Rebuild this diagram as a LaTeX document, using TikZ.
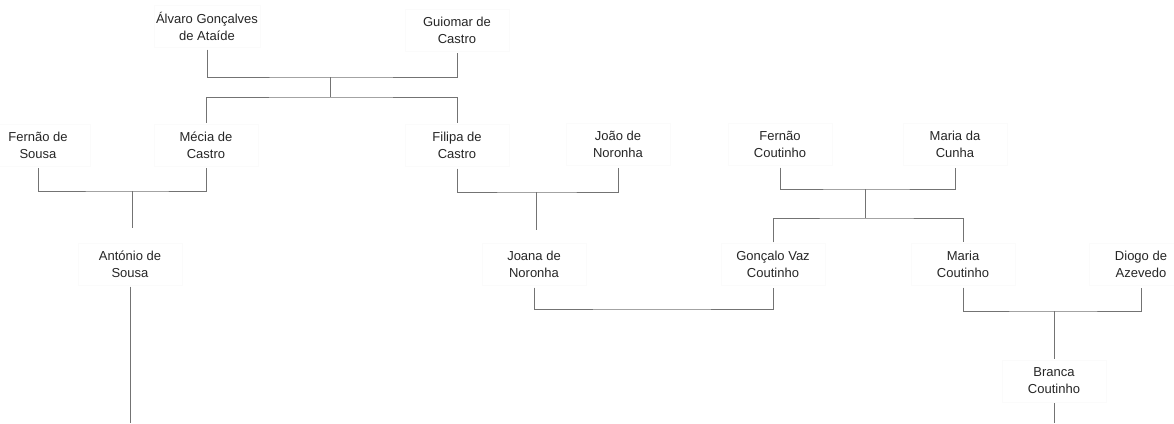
\documentclass[tikz,border=0pt]{standalone}
\usepackage{fontspec}
\setmainfont{Liberation Sans}
\begin{document}
\begin{tikzpicture}[x=1pt,y=-1pt,
  person/.style={draw=black!1.5, line width=0.4pt, text=black!85, align=center,
    minimum width=104pt, minimum height=42pt, inner sep=2pt,
    font=\fontsize{13}{17}\selectfont},
  link/.style={draw=black!55, line width=1pt},
  gap/.style={shorten <=2pt, shorten >=2pt}]
\useasboundingbox (0,0) rectangle (1174,423);
\fill[white] (0,0) rectangle (1174,423);
% people
\node[person] (alv) at (207,26.5) {Álvaro Gonçalves\\de Ataíde};
\node[person] (gui) at (457,30) {Guiomar de\\Castro};
\node[person] (fso) at (38,145) {Fernão de\\Sousa};
\node[person] (mec) at (206,145) {Mécia de\\Castro};
\node[person] (fil) at (457,145.5) {Filipa de\\Castro};
\node[person] (joao) at (618,144.5) {João de\\Noronha};
\node[person] (fco) at (780,144.5) {Fernão\\Coutinho};
\node[person] (mcu) at (955,144.5) {Maria da\\Cunha};
\node[person] (ant) at (130,264.5) {António de\\Sousa};
\node[person] (joa) at (534,264.5) {Joana de\\Noronha};
\node[person] (gon) at (773,264.5) {Gonçalo Vaz\\Coutinho};
\node[person] (mco) at (963,264.5) {Maria\\Coutinho};
\node[person] (dio) at (1141,264.5) {Diogo de\\Azevedo};
\node[person] (bra) at (1054,381) {Branca\\Coutinho};
% junction points
\coordinate (c1) at (330,77);
\coordinate (k1) at (330,97);
\coordinate (c2) at (132,191);
\coordinate (k2) at (132,228);
\coordinate (c3) at (536,192);
\coordinate (k3) at (536,230);
\coordinate (c4) at (865,189);
\coordinate (k4) at (865,218);
\coordinate (c5) at (650,309);
\coordinate (c6) at (1054,311);
\coordinate (antend) at (130,423);
\coordinate (braend) at (1054,423);
% connectors
\draw[link,gap] (alv.south) |- (c1) -| (gui.south);
\draw[link] (c1) -- (k1);
\draw[link,shorten <=1pt, shorten >=1pt] (mec.north) |- (k1) -| (fil.north);
\draw[link,gap] (fso.south) |- (c2) -| (mec.south);
\draw[link] (c2) -- (k2);
\draw[link,gap] (fil.south) |- (c3) -| (joao.south);
\draw[link] (c3) -- (k3);
\draw[link,gap] (fco.south) |- (c4) -| (mcu.south);
\draw[link] (c4) -- (k4);
\draw[link,shorten <=1pt, shorten >=1pt] (gon.north) |- (k4) -| (mco.north);
\draw[link,gap] (joa.south) |- (c5) -| (gon.south);
\draw[link,gap] (mco.south) |- (c6) -| (dio.south);
\draw[link,shorten >=1pt] (c6) -- (bra.north);
\draw[link,shorten <=1pt] (ant.south) -- (antend);
\draw[link,shorten <=1pt] (bra.south) -- (braend);
\end{tikzpicture}
\end{document}
